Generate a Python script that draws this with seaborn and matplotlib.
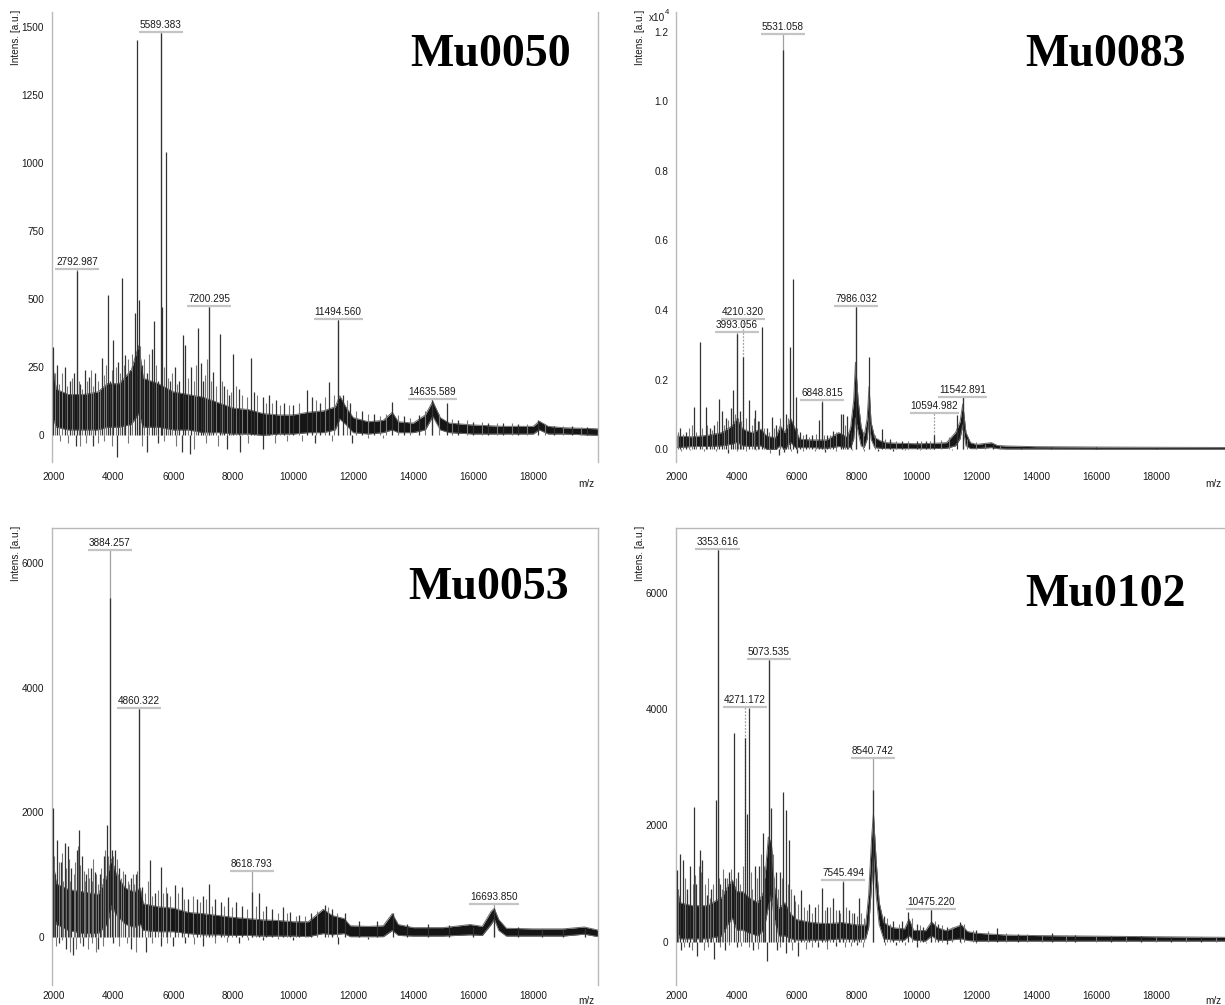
import numpy as np
import pandas as pd
import seaborn as sns
import matplotlib
matplotlib.use("Agg")
import matplotlib.pyplot as plt
from matplotlib.ticker import FixedLocator, FuncFormatter, MultipleLocator

sns.set_style("white")
plt.rcParams['font.family'] = ['Liberation Sans', 'DejaVu Sans']

W, H = 1225, 1005

x_major = [2000, 4000, 6000, 8000, 10000, 12000, 14000, 16000, 18000]
x_minor = [3000, 5000, 7000, 9000, 11000, 13000, 15000, 17000, 19000, 20000]

# ---------------- Mu0050 ----------------
mu0050_band_mz = [2000, 2100, 2500, 3000, 3500, 3800, 4200, 4600, 4850, 5000, 5500, 6000, 6500, 7000,
                  7500, 8000, 8500, 9000, 9500, 10000, 10500, 11000, 11400, 11550, 11750, 12000, 12500,
                  13000, 13300, 13500, 14000, 14400, 14650, 14900, 15200, 16000, 17000, 18000, 18200,
                  18500, 19000, 20167]
mu0050_band_lo = [60, 30, 20, 20, 20, 30, 30, 40, 80, 30, 30, 20, 20, 10, 10, 5, 5, 0, 5, 5, 10, 10, 20,
                  60, 40, 10, 5, 10, 20, 10, 10, 20, 70, 20, 10, 5, 5, 5, 20, 5, 5, 0]
mu0050_band_hi = [240, 170, 150, 150, 160, 190, 190, 240, 330, 210, 190, 160, 150, 140, 120, 100, 95,
                  80, 75, 75, 85, 90, 105, 145, 105, 65, 50, 55, 85, 50, 45, 75, 125, 65, 45, 38, 33,
                  33, 52, 33, 28, 24]
mu0050_spike_mz = [2000, 2130, 2390, 2560, 2700, 2793, 2900, 3050, 3200, 3400, 3620, 3813, 3900, 4000,
                   4150, 4290, 4400, 4560, 4713, 4800, 4846, 4950, 5120, 5280, 5367, 5490, 5589, 5610,
                   5747, 5900, 6050, 6200, 6313, 6400, 6600, 6823, 6913, 7000, 7200, 7333, 7556, 7700,
                   7850, 8000, 8200, 8580, 8700, 9000, 9200, 9423, 9700, 10000, 10467, 10633, 10900,
                   11200, 11494, 11650, 11900, 12300, 12700, 13280, 13700, 14200, 14635, 15113, 15500,
                   16000, 16500, 17000, 17500, 18167, 18700, 19300, 19800,
                   2767, 3330, 4133, 5133, 5500, 6280, 6557, 7777, 8223, 9000, 10723, 11947]
mu0050_spike_int = [326, 260, 252, 200, 230, 605, 190, 240, 215, 230, 285, 516, 200, 350,
                    270, 577, 295, 240, 448, 1453, 497, 260, 230, 317, 420, 200, 1480, 473,
                    1043, 200, 250, 200, 369, 332, 250, 393, 265, 200, 470, 234, 371, 180,
                    150, 298, 170, 283, 160, 140, 150, 130, 120, 110, 167, 142, 120,
                    197, 425, 150, 120, 90, 80, 124, 70, 75, 130, 118, 55,
                    50, 45, 45, 40, 56, 35, 35, 30,
                    -40, -40, -79, -60, -30, -60, -70, -50, -60, -50, -30, -30]
mu0050_noise_mz = [2060, 2200, 2290, 2460, 2630, 2850, 2960, 3120, 3260, 3330, 3480, 3550, 3700, 3750,
                   3960, 4080, 4220, 4350, 4480, 4640, 4900, 5020, 5200, 5420, 5700, 5820, 5970, 6120,
                   6480, 6700, 6760, 7070, 7130, 7260, 7420, 7620, 7780, 7920, 8100, 8300, 8450, 8800,
                   9100, 9300, 9550, 9850, 10200, 10750, 11050, 11350, 11800, 12100, 12500, 12900,
                   13100, 13500, 13900, 14400, 14850, 15300, 15800, 16300, 16800, 17300, 17800, 18400,
                   19000, 19600,
                   2230, 2480, 2900, 3080, 3500, 3700, 3950, 4500, 4950, 5700, 6100, 6700, 7100, 7500,
                   8500, 9400, 9800, 10300, 11300, 12500, 13000]
mu0050_noise_int = [230, 190, 230, 180, 210, 200, 170, 200, 240, 180, 200, 170, 220, 260,
                    240, 250, 230, 260, 280, 300, 330, 280, 300, 260, 250, 210, 230, 190,
                    210, 200, 260, 220, 280, 200, 180, 200, 170, 160, 180, 150, 140, 150,
                    120, 120, 110, 110, 120, 130, 140, 150, 130, 90, 80, 70,
                    80, 75, 65, 90, 80, 60, 55, 50, 45, 45, 40, 40,
                    35, 30,
                    -20, -30, -40, -30, -30, -20, -40, -30, -40, -20, -40, -50, -30, -40,
                    -30, -30, -20, -20, -20, -10, -10]
mu0050_labels = ['2792.987', '5589.383', '7200.295', '11494.560', '14635.589']
mu0050_label_y = [610, 1481, 476, 427, 133]
mu0050_dotted = [False, False, False, False, False]

# ---------------- Mu0083 ----------------
mu0083_band_mz = [2000, 2500, 3000, 3500, 3850, 4000, 4200, 4500, 4800, 5000, 5300, 5450, 5600, 5800,
                  5950, 6100, 6500, 7000, 7400, 7700, 7800, 7900, 7960, 8050, 8150, 8250, 8350, 8413,
                  8480, 8600, 8800, 9000, 9500, 10000, 10500, 11000, 11300, 11450, 11542, 11650, 11800,
                  12000, 12500, 12700, 13000, 14000, 16000, 18000, 20300]
mu0083_band_lo = [50, 80, 80, 100, 150, 200, 100, 80, 100, 0, 0, 100, 0, 200, 50, 50, 50, 30, 80, 50,
                  50, 300, 900, 500, 100, 50, 300, 900, 300, 50, 30, 20, 20, 20, 20, 30, 100, 300, 700,
                  100, 20, 20, 50, 20, 10, 10, 5, 5, 5]
mu0083_band_hi = [380, 360, 400, 480, 680, 880, 580, 480, 580, 380, 330, 680, 480, 880, 580, 290, 270,
                  270, 480, 340, 640, 1400, 2500, 1400, 640, 380, 880, 1800, 780, 340, 240, 190, 170,
                  160, 170, 190, 480, 780, 1300, 480, 190, 140, 190, 110, 95, 75, 65, 58, 52]
mu0083_spike_mz = [2100, 2300, 2568, 2768, 2958, 3100, 3250, 3403, 3493, 3650, 3800, 3880, 3993, 4100,
                   4210, 4415, 4605, 4700, 4849, 5000, 5163, 5300, 5531, 5650, 5774, 5884, 5964, 6100,
                   6300, 6500, 6753, 6849, 7000, 7200, 7467, 7534, 7667, 7800, 7986, 8413, 8837, 9100,
                   9500, 10000, 10300, 10595, 11362, 11543, 12564, 13500, 14500, 16000, 18000,
                   3700, 5400, 5560, 6000, 6950, 8700, 9200]
mu0083_spike_int = [600, 500, 1225, 3093, 1225, 600, 700, 1437, 1110, 900, 1200, 1704, 3300, 1100,
                    2660, 1417, 1130, 800, 3524, 600, 937, 700, 11476, 1000, 2949, 4886, 1500, 500,
                    450, 400, 842, 1368, 400, 535, 1015, 1000, 950, 500, 4098, 2644, 575, 300,
                    250, 250, 250, 411, 986, 1512, 152, 80, 60, 60, 50,
                    -100, -150, -80, -100, -80, -60, -60]
mu0083_noise_mz = [2050, 2200, 2400, 2500, 2650, 2850, 3000, 3180, 3330, 3570, 3720, 3940, 4050, 4150,
                   4300, 4500, 4560, 4750, 4920, 5080, 5230, 5450, 5700, 6000, 6200, 6400, 6650, 6900,
                   7100, 7300, 7600, 7700, 8200, 8600, 8950, 9300, 9700, 10150, 10450, 10800, 11100,
                   11700, 12000, 12300, 12800,
                   2150, 2450, 2900, 3300, 4000, 4300, 4650, 5100, 5800, 6200, 6600, 7300, 7850, 8250,
                   9600, 10100, 11200]
mu0083_noise_int = [500, 450, 600, 700, 500, 600, 700, 550, 800, 700, 850, 1000, 900, 800,
                    900, 700, 900, 800, 600, 500, 600, 900, 900, 600, 400, 350, 450, 400,
                    400, 500, 700, 500, 500, 400, 300, 250, 250, 230, 250, 280, 350,
                    300, 200, 150, 120,
                    -50, -30, -40, -60, -40, -50, -30, -100, -60, -40, -50, -40, -30, -50,
                    -20, -20, -20]
mu0083_labels = ['3993.056', '4210.320', '5531.058', '6848.815', '7986.032', '10594.982', '11542.891']
mu0083_label_y = [3362, 3743, 11927, 1417, 4127, 1035, 1512]
mu0083_dotted = [False, True, False, False, False, True, False]

# ---------------- Mu0053 ----------------
mu0053_band_mz = [2000, 2100, 2500, 3000, 3500, 3800, 3950, 4100, 4400, 4700, 4900, 5000, 5500, 6000,
                  6500, 7000, 7500, 8000, 8500, 9000, 9500, 10000, 10500, 11000, 11300, 11700, 11900,
                  12500, 13000, 13300, 13500, 14000, 15000, 15900, 16300, 16600, 16700, 16850, 17100,
                  18000, 19000, 19700, 20167]
mu0053_band_lo = [400, 200, 100, 50, 50, 200, 500, 350, 200, 150, 200, 100, 80, 80, 50, 30, 30, 20, 20,
                  10, 10, 10, 0, 50, 30, 50, 0, 0, 0, 100, 20, 10, 10, 30, 20, 200, 280, 100, 10, 10,
                  10, 40, 0]
mu0053_band_hi = [1200, 850, 760, 720, 680, 980, 1250, 1000, 780, 720, 780, 530, 480, 460, 390, 370,
                  340, 310, 290, 270, 260, 240, 240, 440, 340, 290, 175, 165, 175, 370, 195, 145, 145,
                  195, 165, 410, 450, 275, 135, 125, 125, 155, 105]
mu0053_spike_mz = [2000, 2070, 2133, 2250, 2390, 2480, 2600, 2780, 2857, 2950, 3100, 3250, 3390, 3550,
                   3700, 3780, 3884, 3950, 4057, 4200, 4400, 4600, 4750, 4860, 4950, 5223, 5400, 5580,
                   5800, 6057, 6280, 6500, 6800, 7000, 7190, 7400, 7600, 7833, 8100, 8300, 8619, 8867,
                   9100, 9300, 9647, 9900, 10200, 10600, 11057, 11300, 11723, 12200, 12800, 13313,
                   13800, 14500, 15200, 15980, 16694, 17500, 18300, 19000, 19723,
                   2200, 2420, 2660, 3000, 3500, 4000, 4600, 5100, 5600, 6000, 6400, 7000, 8200, 9000,
                   10000, 11500, 12500]
mu0053_spike_int = [2064, 1000, 1555, 1200, 1500, 1450, 1100, 1394, 1716, 1300, 1000, 1100, 1045, 1000,
                    1300, 1796, 5441, 1400, 1394, 1100, 1000, 950, 1000, 3656, 800, 1233, 700, 1126,
                    700, 832, 804, 600, 600, 650, 847, 600, 550, 643, 550, 500, 724, 697,
                    500, 450, 482, 400, 350, 380, 510, 450, 376, 250, 250, 376,
                    200, 200, 180, 161, 456, 150, 130, 120, 135,
                    -100, -200, -300, -150, -200, -100, -200, -250, -150, -150, -100, -150, -100, -60,
                    -50, -120, -30]
mu0053_noise_mz = [2040, 2180, 2300, 2340, 2440, 2530, 2560, 2690, 2720, 2820, 2900, 3020, 3060, 3150,
                   3200, 3300, 3340, 3440, 3500, 3600, 3650, 3740, 3820, 4000, 4120, 4150, 4250, 4320,
                   4480, 4530, 4650, 4700, 4800, 5050, 5150, 5300, 5500, 5650, 5750, 5900, 6150, 6350,
                   6650, 6900, 7100, 7300, 7700, 7950, 8450, 8750, 9000, 9500, 9800, 10100, 10400,
                   10800, 11150, 11450,
                   2100, 2300, 2550, 2750, 2900, 3150, 3300, 3420, 3650, 4200, 4450, 4750, 5300, 5800,
                   6700, 7400, 7800, 8500, 9500]
mu0053_noise_int = [1300, 1200, 1350, 900, 1100, 1250, 900, 1000, 1200, 1450, 1150, 1050, 900, 1100,
                    950, 900, 1250, 1000, 850, 1100, 950, 1400, 1300, 1300, 1250, 1000, 950, 1050,
                    900, 850, 1000, 850, 1050, 700, 900, 650, 750, 700, 800, 650, 700, 600,
                    650, 550, 600, 500, 500, 480, 450, 500, 420, 380, 380, 330, 330,
                    420, 480, 380,
                    -150, -50, -250, -200, -100, -200, -100, -250, -150, -150, -100, -250, -100, -100,
                    -120, -100, -80, -60, -40]
mu0053_labels = ['3884.257', '4860.322', '8618.793', '16693.850']
mu0053_label_y = [6218, 3673, 1061, 526]
mu0053_dotted = [False, False, False, False]

# ---------------- Mu0102 ----------------
mu0102_band_mz = [2000, 2100, 2500, 3000, 3500, 3700, 3850, 4000, 4200, 4400, 4700, 4900, 5050, 5150,
                  5250, 5400, 5600, 5800, 6000, 6500, 7000, 7500, 8000, 8300, 8400, 8500, 8560, 8650,
                  8750, 8900, 9200, 9600, 9750, 9900, 10300, 10500, 10700, 11000, 11500, 11700, 12000,
                  13000, 14000, 16000, 18000, 20300]
mu0102_band_lo = [200, 50, 50, 50, 100, 300, 400, 200, 200, 150, 100, 200, 600, 800, 400, 100, 100, 50,
                  30, 30, 30, 50, 30, 50, 250, 1000, 1500, 800, 300, 50, 30, 30, 100, 30, 10, 100, 30,
                  20, 50, 20, 10, 10, 10, 10, 10, 10]
mu0102_band_hi = [950, 670, 620, 620, 760, 960, 1060, 860, 860, 760, 670, 860, 1800, 1700, 960, 570,
                  670, 480, 380, 330, 310, 330, 290, 290, 800, 1800, 2200, 1400, 680, 330, 240, 220, 390,
                  195, 190, 340, 240, 190, 290, 175, 145, 115, 105, 95, 85, 75]
mu0102_spike_mz = [2000, 2100, 2200, 2350, 2450, 2568, 2650, 2768, 2850, 3000, 3150, 3292, 3354, 3450,
                   3600, 3750, 3904, 4050, 4271, 4330, 4415, 4600, 4750, 4862, 4950, 5074, 5150, 5300,
                   5450, 5550, 5630, 5741, 5900, 6142, 6400, 6600, 6853, 7000, 7200, 7400, 7545, 7750,
                   7900, 8079, 8541, 8900, 9200, 9500, 9727, 10000, 10200, 10475, 10700, 11000, 11452,
                   12000, 12698, 13400, 14515, 15300, 16500, 17500, 18500, 19500,
                   2150, 2400, 2680, 3250, 3600, 4000, 4550, 4990, 5350, 5650, 6050, 6700, 7300, 8000,
                   9300, 10000, 11000]
mu0102_spike_int = [1233, 1500, 1405, 900, 1300, 2322, 1000, 1577, 1400, 800, 900, 2437, 6737, 1000,
                    1100, 1200, 3584, 1200, 3500, 2200, 4014, 1300, 1300, 1864, 1100, 4845, 2300, 1200,
                    1200, 2580, 2265, 1749, 800, 889, 650, 600, 918, 600, 746, 550, 1032, 550,
                    500, 746, 2609, 450, 350, 350, 516, 300, 250, 545, 300, 250, 344,
                    200, 230, 130, 144, 120, 100, 90, 80, 80,
                    -150, -100, -250, -300, -150, -100, -150, -330, -150, -200, -250, -100, -80, -50,
                    -60, -100, -40]
mu0102_noise_mz = [2050, 2280, 2320, 2420, 2520, 2600, 2720, 2800, 2920, 3050, 3100, 3200, 3400, 3500,
                   3550, 3680, 3800, 3980, 4120, 4200, 4480, 4520, 4680, 4800, 4900, 5200, 5250, 5380,
                   5500, 5700, 5800, 5950, 6050, 6250, 6350, 6500, 6700, 6950, 7100, 7300, 7450, 7650,
                   7850, 8000, 8150, 8250, 9000, 9100, 9400, 9850, 10100, 10600, 10850, 11200, 11600,
                   11900, 12400, 13000, 13700, 14200, 15000, 16000, 17000, 18000, 19000, 20000,
                   2250, 2500, 2900, 3050, 3450, 3750, 4150, 4400, 4700, 5450, 5850, 6300, 6500, 7000,
                   7600, 7800, 8200, 8950, 9600, 10300, 11500, 12000]
mu0102_noise_int = [900, 1100, 800, 1000, 1000, 1150, 1300, 1200, 1000, 1100, 750, 1000, 1100, 900,
                    1250, 1100, 1250, 1100, 1000, 1300, 1200, 900, 1100, 1500, 1300, 1500, 1100, 900,
                    1100, 1000, 900, 700, 650, 600, 550, 500, 650, 550, 600, 550, 500, 600,
                    500, 450, 500, 400, 400, 300, 300, 400, 280, 350, 280, 250, 300,
                    200, 180, 150, 130, 120, 110, 100, 90, 85, 80, 75,
                    -100, -150, -150, -100, -100, -50, -80, -100, -120, -100, -150, -120, -100, -120,
                    -100, -80, -100, -60, -60, -30, -30, -20]
mu0102_labels = ['3353.616', '4271.172', '5073.535', '7545.494', '8540.742', '10475.220']
mu0102_label_y = [6749, 4042, 4857, 1061, 3154, 562]
mu0102_dotted = [False, True, False, False, False, False]

panels = [
    dict(name='Mu0050', band=(mu0050_band_mz, mu0050_band_lo, mu0050_band_hi),
         spikes=(mu0050_spike_mz, mu0050_spike_int), noise=(mu0050_noise_mz, mu0050_noise_int),
         labels=(mu0050_labels, mu0050_label_y, mu0050_dotted),
         box=(51.7, 12, 598.3, 462), xlim=(1947, 20167), ylim=(-98, 1556), ymaj=250, ymin=50,
         title=(571, 34), top=False, right=True, sci=False, offset=3),
    dict(name='Mu0083', band=(mu0083_band_mz, mu0083_band_lo, mu0083_band_hi),
         spikes=(mu0083_spike_mz, mu0083_spike_int), noise=(mu0083_noise_mz, mu0083_noise_int),
         labels=(mu0083_labels, mu0083_label_y, mu0083_dotted),
         box=(676, 12, 1225, 462), xlim=(1967, 20300), ylim=(-365, 12566), ymaj=2000, ymin=1000,
         title=(1186, 34), top=False, right=False, sci=True, offset=3),
    dict(name='Mu0053', band=(mu0053_band_mz, mu0053_band_lo, mu0053_band_hi),
         spikes=(mu0053_spike_mz, mu0053_spike_int), noise=(mu0053_noise_mz, mu0053_noise_int),
         labels=(mu0053_labels, mu0053_label_y, mu0053_dotted),
         box=(51.7, 528, 598.3, 985), xlim=(1947, 20167), ylim=(-777, 6568), ymaj=2000, ymin=1000,
         title=(569, 567), top=True, right=True, sci=False, offset=0),
    dict(name='Mu0102', band=(mu0102_band_mz, mu0102_band_lo, mu0102_band_hi),
         spikes=(mu0102_spike_mz, mu0102_spike_int), noise=(mu0102_noise_mz, mu0102_noise_int),
         labels=(mu0102_labels, mu0102_label_y, mu0102_dotted),
         box=(676, 528, 1225, 985), xlim=(1967, 20300), ylim=(-745, 7113), ymaj=2000, ymin=1000,
         title=(1186, 574), top=True, right=False, sci=False, offset=0),
]

fig = plt.figure(figsize=(W / 100, H / 100), dpi=100)
fig.patch.set_facecolor('white')

frame_col = '#b9b9b9'
label_texts = []

for p in panels:
    l, t, r, b = p['box']
    ax = fig.add_axes([l / W, 1 - b / H, (r - l) / W, (b - t) / H])
    ax.set_facecolor('white')

    band = pd.DataFrame({'mz': p['band'][0], 'lo': p['band'][1], 'hi': p['band'][2]})
    mz_s, int_s = p['spikes']
    mz_n, int_n = p['noise']
    txts, ys, dots = p['labels']

    # annotation lines
    for txt, y, d in zip(txts, ys, dots):
        ax.vlines(float(txt), 0, y, colors='#a0a0a0', lw=0.9,
                  linestyles=(0, (1.5, 1.2)) if d else 'solid', zorder=1)

    # dense noise band
    ax.fill_between(band['mz'], band['lo'], band['hi'], color='#151515', lw=0, zorder=2)
    sns.lineplot(data=band, x='mz', y='hi', ax=ax, color='#6a6a6a', lw=0.7, estimator=None, zorder=2)
    sns.lineplot(data=band, x='mz', y='lo', ax=ax, color='#6a6a6a', lw=0.7, estimator=None, zorder=2)

    # noise spikes and peaks
    ax.vlines(mz_n, 0, int_n, colors='#777777', lw=0.8, zorder=3)
    ax.vlines(mz_s, 0, int_s, colors='#333333', lw=0.9, zorder=3)

    ax.set_xlim(*p['xlim'])
    ax.set_ylim(*p['ylim'])
    ax.set_xlabel('')
    ax.set_ylabel('')

    ax.xaxis.set_major_locator(FixedLocator(x_major))
    ax.xaxis.set_minor_locator(FixedLocator(x_minor))
    ax.yaxis.set_major_locator(MultipleLocator(p['ymaj']))
    ax.yaxis.set_minor_locator(MultipleLocator(p['ymin']))
    if p['sci']:
        ax.yaxis.set_major_formatter(FuncFormatter(lambda v, pos: f'{v / 1e4:.1f}'))
    else:
        ax.yaxis.set_major_formatter(FuncFormatter(lambda v, pos: f'{v:.0f}'))

    ax.tick_params(axis='both', which='major', direction='out', length=3.5, width=0.8,
                   color='#8c8c8c', labelsize=7.2, labelcolor='#1a1a1a', pad=2)
    ax.tick_params(axis='both', which='minor', direction='out', length=2.2, width=0.7,
                   color='#8c8c8c')
    ax.tick_params(axis='x', which='major', length=3, pad=1.5)
    ax.tick_params(axis='x', which='minor', length=2.2)

    for s in ['left', 'right', 'top', 'bottom']:
        ax.spines[s].set_color(frame_col)
        ax.spines[s].set_linewidth(1.0)
    ax.spines['bottom'].set_position(('outward', p['offset']))
    ax.spines['bottom'].set_color('none')
    ax.spines['top'].set_visible(p['top'])
    ax.spines['right'].set_visible(p['right'])

    for txt, y in zip(txts, ys):
        tt = ax.annotate(txt, (float(txt), y), xytext=(0, 1.5), textcoords='offset points',
                         ha='center', va='bottom', fontsize=7.2, color='#1a1a1a', zorder=5)
        label_texts.append((ax, tt, y))

    # axis captions
    fig.text((l - 36) / W, 1 - (t - 2) / H, 'Intens. [a.u.]', rotation=90, ha='center', va='top',
             fontsize=7.2, color='#1a1a1a')
    mz_y = b + 22 if p['offset'] else b + 16
    fig.text((r - 4) / W, 1 - mz_y / H, 'm/z', ha='right', va='center', fontsize=7.2,
             color='#1a1a1a')
    if p['sci']:
        fig.text((l - 27) / W, 1 - 18 / H, 'x10', ha='left', va='center', fontsize=7.2,
                 color='#1a1a1a')
        fig.text((l - 11) / W, 1 - 13 / H, '4', ha='left', va='center', fontsize=5.5,
                 color='#1a1a1a')

    tx, ty = p['title']
    fig.text(tx / W, 1 - ty / H, p['name'], ha='right', va='top', fontsize=33,
             fontweight='bold', family=['Liberation Serif', 'DejaVu Serif'], color='black')

# underline the peak labels
fig.canvas.draw()
for ax, tt, y in label_texts:
    bb = tt.get_window_extent()
    inv = ax.transData.inverted()
    x0 = inv.transform((bb.x0 - 1, bb.y0))[0]
    x1 = inv.transform((bb.x1 + 1, bb.y0))[0]
    ax.hlines(y, x0, x1, colors='#c4c4c4', lw=1.6, zorder=4)

fig.savefig('out.png', dpi=100, facecolor='white')
